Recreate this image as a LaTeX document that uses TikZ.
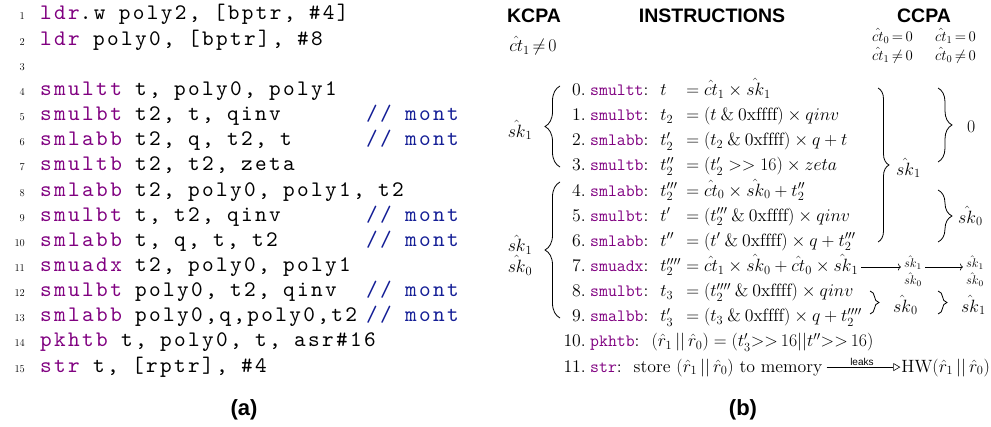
\documentclass[tikz,border=0pt]{standalone}
\usepackage{fix-cm}
\usepackage{fontspec}
\usetikzlibrary{decorations.pathreplacing,arrows.meta,calc}
\setmainfont{lmroman12-regular.otf}[ItalicFont=lmroman12-italic.otf,BoldFont=lmroman12-bold.otf]
\setmonofont{lmmono12-regular.otf}
\newfontfamily\hel{Liberation Sans}
\newfontfamily\codefont{lmmono10-regular.otf}[LetterSpace=10.7]
\definecolor{kwc}{RGB}{128,0,128}
\definecolor{cmc}{RGB}{20,30,150}
\newcommand\kw[1]{\textcolor{kwc}{#1}}
\newcommand\ik[1]{\textcolor{kwc}{\fontsize{17.28}{21}\ttfamily #1}}
\newcommand\lhs[1]{\makebox[21pt][l]{$#1$}}
\newcommand\ct{\hat{ct}}
\newcommand\sk{\hat{sk}}
\newcommand\rr{(\hat{r}_1\,||\,\hat{r}_0)}
\newcommand\codefnt{\fontsize{22.17}{25}\codefont\fontdimen2\font=13.3pt\fontdimen3\font=0pt\fontdimen4\font=0pt\relax}
\tikzset{
  code/.style={font=\codefnt, inner sep=0pt, anchor=base west},
  cmt/.style={font=\codefnt, text=cmc, inner sep=0pt, anchor=base west},
  lnum/.style={font=\fontsize{10.5}{12}\selectfont, inner sep=0pt, anchor=base east},
  ins/.style={font=\fontsize{17.8}{21}\selectfont, inner sep=0pt, anchor=base west},
  insnum/.style={font=\fontsize{17.8}{21}\selectfont, inner sep=0pt, anchor=base east},
  lab/.style={font=\fontsize{17.8}{16}\selectfont, inner sep=0pt, align=center},
  smalllab/.style={font=\fontsize{12.5}{17}\selectfont, inner sep=0pt, align=center},
  cond/.style={font=\fontsize{14.8}{18}\selectfont, inner sep=0pt, anchor=base west},
  head/.style={font=\fontsize{19.5}{22}\hel\bfseries, inner sep=0pt},
  brc/.style={decorate, decoration={brace, amplitude=#1}, line width=0.8pt},
  arr/.style={-{To[length=3pt,width=7pt]}, line width=0.6pt, shorten <=3pt, shorten >=3pt},
}
\begin{document}
\begin{tikzpicture}[x=1pt,y=-1pt]
\useasboundingbox (0,0) rectangle (991,427);
% ---------- (a) code listing
\foreach \i in {1,...,15} \node[lnum] (n\i) at (25,{20+25.15*(\i-1)}) {\i};
\node[code] (c1) at (40,20) {\kw{ldr}.w poly2, [bptr, \#4]};
\node[code] (c2) at (40,45.15) {\kw{ldr} poly0, [bptr], \#8};
\node[code] (c4) at (40,95.45) {\kw{smultt} t, poly0, poly1};
\node[code] (c5) at (40,120.6) {\kw{smulbt} t2, t, qinv};
\node[code] (c6) at (40,145.75) {\kw{smlabb} t2, q, t2, t};
\node[code] (c7) at (40,170.9) {\kw{smultb} t2, t2, zeta};
\node[code] (c8) at (40,196.05) {\kw{smlabb} t2, poly0, poly1, t2};
\node[code] (c9) at (40,221.2) {\kw{smulbt} t, t2, qinv};
\node[code] (c10) at (40,246.35) {\kw{smlabb} t, q, t, t2};
\node[code] (c11) at (40,271.5) {\kw{smuadx} t2, poly0, poly1};
\node[code] (c12) at (40,296.65) {\kw{smulbt} poly0, t2, qinv};
\node[code] (c13) at (40,321.8) {\kw{smlabb} poly0,q,poly0,t2};
\node[code] (c14) at (40,346.95) {\kw{pkhtb} t, poly0, t, asr\#16};
\node[code] (c15) at (40,372.1) {\kw{str} t, [rptr], \#4};
\foreach \i/\y in {5/120.6,6/145.75,9/221.2,10/246.35,12/296.65,13/321.8}
  \node[cmt] (m\i) at (366,\y) {// mont};
\node[head, font=\fontsize{22}{24}\hel\bfseries] (capa) at (244,410) {(a)};
% ---------- (b) headers
\node[head] (hk) at (534,16) {KCPA};
\node[head] (hi) at (712,16) {INSTRUCTIONS};
\node[head] (hc) at (924,16) {CCPA};
\node[ins, anchor=base] (kc) at (533,52) {$\ct_1\,{\neq}\,0$};
\node[cond] (cc1) at (872,41.5) {$\ct_0\,{=}\,0$};
\node[cond] (cc2) at (935,41.5) {$\ct_1\,{=}\,0$};
\node[cond] (cc3) at (872,60.5) {$\ct_1\,{\neq}\,0$};
\node[cond] (cc4) at (935,60.5) {$\ct_0\,{\neq}\,0$};
% ---------- instructions
\foreach \i/\y in {0/95.45,1/120.6,2/145.75,3/170.9,4/196.05,5/221.2,6/246.35,7/271.5,8/296.65,9/321.8,10/346.95,11/372.1}
  \node[insnum] (k\i) at (586,\y) {\i.};
\node[ins] (l0) at (590,95.45) {\ik{smultt}:\hspace{12pt}$\lhs{t}=\ct_1\times\sk_1$};
\node[ins] (l1) at (590,120.6) {\ik{smulbt}:\hspace{12pt}$\lhs{t_2}=(t\mathbin{\&}\mathrm{0xffff})\times qinv$};
\node[ins] (l2) at (590,145.75) {\ik{smlabb}:\hspace{12pt}$\lhs{t'_2}=(t_2\mathbin{\&}\mathrm{0xffff})\times q+t$};
\node[ins] (l3) at (590,170.9) {\ik{smultb}:\hspace{12pt}$\lhs{t''_2}=(t'_2>>16)\times zeta$};
\node[ins] (l4) at (590,196.05) {\ik{smlabb}:\hspace{12pt}$\lhs{t'''_2}=\ct_0\times\sk_0+t''_2$};
\node[ins] (l5) at (590,221.2) {\ik{smulbt}:\hspace{12pt}$\lhs{t'}=(t'''_2\mathbin{\&}\mathrm{0xffff})\times qinv$};
\node[ins] (l6) at (590,246.35) {\ik{smlabb}:\hspace{12pt}$\lhs{t''}=(t'\mathbin{\&}\mathrm{0xffff})\times q+t'''_2$};
\node[ins] (l7) at (590,271.5) {\ik{smuadx}:\hspace{12pt}$\lhs{t''''_2}=\ct_1\times\sk_0+\ct_0\times\sk_1$};
\node[ins] (l8) at (590,296.65) {\ik{smulbt}:\hspace{12pt}$\lhs{t_3}=(t''''_2\mathbin{\&}\mathrm{0xffff})\times qinv$};
\node[ins] (l9) at (590,321.8) {\ik{smalbb}:\hspace{12pt}$\lhs{t'_3}=(t_3\mathbin{\&}\mathrm{0xffff})\times q+t''''_2$};
\node[ins] (l10) at (590,346.95) {\ik{pkhtb}:\hspace{12pt}$\rr=(t'_3{>}{>}\,16||t''{>}{>}\,16)$};
\node[ins] (l11) at (590,372.1) {\ik{str}:\hspace{12pt}store $\rr$ to memory};
\node[ins, anchor=base east] (hw) at (990,372.1) {HW$\rr$};
\draw[-{Triangle[open,length=7pt,width=8pt]}, line width=0.6pt, shorten <=4pt, shorten >=1pt]
  ([yshift=5pt]l11.base east) -- ([yshift=5pt]hw.base west)
  node[midway, above=0pt, font=\fontsize{10}{12}\hel, inner sep=1pt] (lk) {leaks};
% ---------- left braces
\draw[brc=15pt] (560,167) -- (560,86);
\node[lab] (s1a) at (520,130) {$\sk_1$};
\draw[brc=15pt] (560,318) -- (560,182);
\node[lab] (s1b) at (520,255) {$\sk_1$\\$\sk_0$};
% ---------- right braces
\draw[brc=11pt] (878,88) -- (878,242);
\node[lab, anchor=west] (r1) at (896,168) {$\sk_1$};
\draw[brc=14pt] (938,88) -- (938,162);
\node[lab, anchor=west] (r2) at (967,127) {$0$};
\draw[brc=14pt] (938,190) -- (938,242);
\node[lab, anchor=west] (r3) at (958,216) {$\sk_0$};
\draw[brc=9pt] (870,291) -- (870,314);
\node[lab, anchor=west] (r4) at (893,305) {$\sk_0$};
\draw[brc=9pt] (938,291) -- (938,314);
\node[lab, anchor=west] (r5) at (961,305) {$\sk_1$};
% ---------- line 7 arrows
\node[smalllab] (st1) at (913,271) {$\sk_1$\\$\sk_0$};
\node[smalllab] (st2) at (975,271) {$\sk_1$\\$\sk_0$};
\draw[arr] ([yshift=4.5pt]l7.base east) coordinate (a7) -- (a7 -| st1.west);
\draw[arr] (st1.east |- a7) -- (a7 -| st2.west);
\node[head, font=\fontsize{22}{24}\hel\bfseries] (capb) at (743,410) {(b)};
\end{tikzpicture}
\end{document}
